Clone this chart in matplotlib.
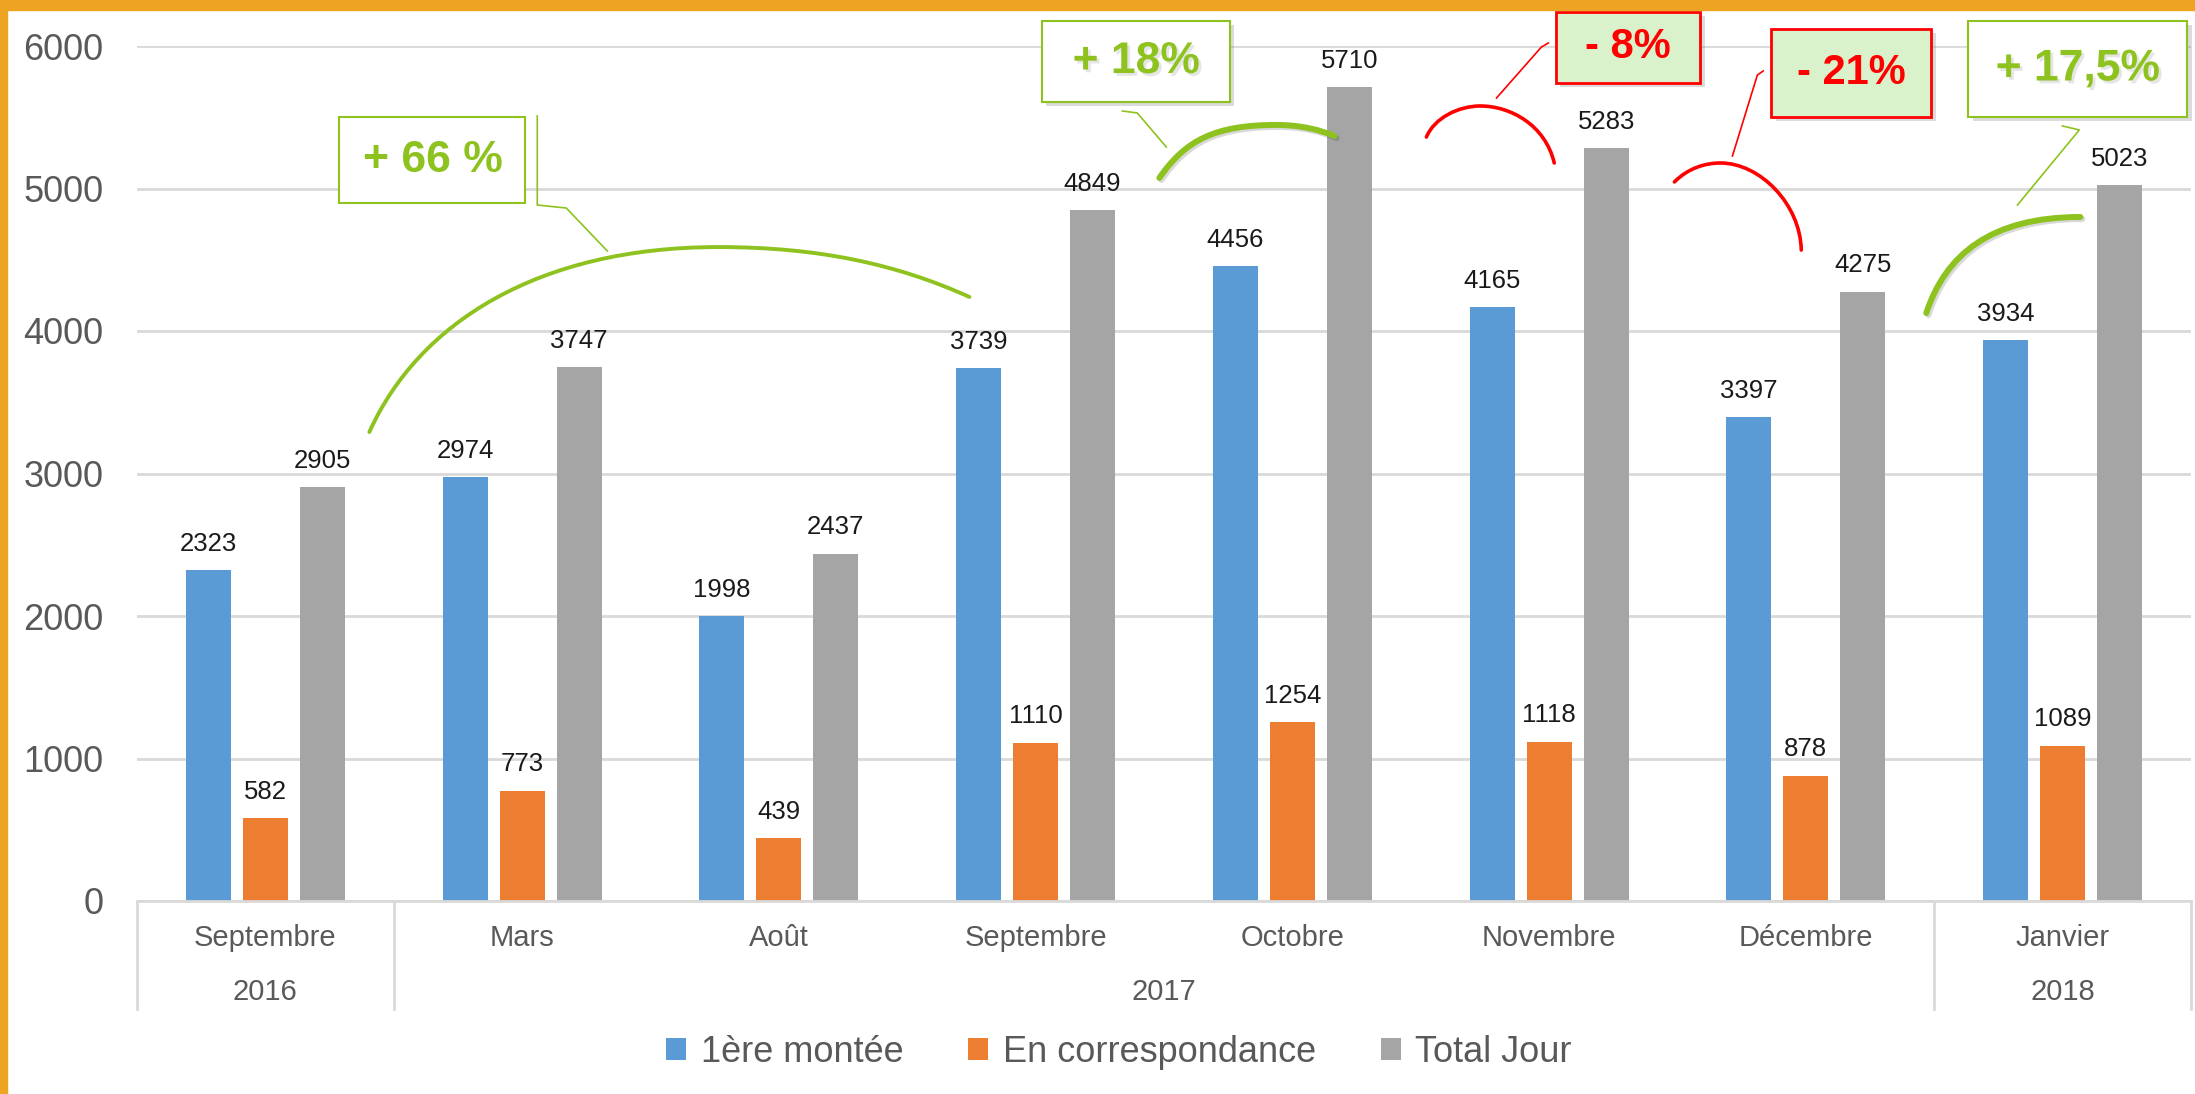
import matplotlib

matplotlib.use("Agg")

import matplotlib.pyplot as plt
import matplotlib.patheffects as pe
from matplotlib.path import Path
from matplotlib.patches import PathPatch, Rectangle
import numpy as np

plt.rcParams['font.family'] = ['Liberation Sans', 'DejaVu Sans']

months = ["Septembre", "Mars", "Août", "Septembre", "Octobre",
          "Novembre", "Décembre", "Janvier"]
years = ["2016", "2017", "2018"]
year_first = [0, 1, 7]   # first month index of each year
year_last = [0, 6, 7]    # last month index of each year

premiere = [2323, 2974, 1998, 3739, 4456, 4165, 3397, 3934]
correspondance = [582, 773, 439, 1110, 1254, 1118, 878, 1089]
total = [2905, 3747, 2437, 4849, 5710, 5283, 4275, 5023]
series_names = ["1ère montée", "En correspondance", "Total Jour"]

# annotations (x in category units, y in value units)
labels_pct = ["+ 66 %", "+ 18%", "- 8%", "- 21%", "+ 17,5%"]
pct_up = [True, True, False, False, True]
boxes = [(0.288, 4898, 1.013, 5502), (3.026, 5607, 3.758, 6175),
         (5.028, 5740, 5.589, 6240), (5.866, 5502, 6.489, 6119),
         (6.633, 5502, 7.486, 6175)]
callouts = [
    [(1.059, 5509), (1.059, 4884), (1.172, 4863), (1.332, 4561)],
    [(3.338, 5544), (3.396, 5530), (3.509, 5291)],
    [(4.997, 6021), (4.970, 5993), (4.795, 5635)],
    [(5.834, 5825), (5.811, 5796), (5.714, 5228)],
    [(6.999, 5439), (7.065, 5411), (6.824, 4884)],
]
arcs = [
    [(0.405, 3291), (0.596, 4056), (1.063, 4589), (1.764, 4589),
     (2.154, 4589), (2.458, 4470), (2.742, 4239)],
    [(3.482, 5074), (3.583, 5340), (3.700, 5446), (3.938, 5446),
     (4.031, 5446), (4.109, 5411), (4.164, 5368)],
    [(4.522, 5361), (4.553, 5495), (4.647, 5579), (4.732, 5579),
     (4.849, 5579), (4.985, 5446), (5.020, 5179)],
    [(5.488, 5046), (5.542, 5144), (5.609, 5179), (5.667, 5179),
     (5.823, 5179), (5.979, 4886), (5.982, 4568)],
    [(6.469, 4126), (6.543, 4533), (6.719, 4800), (7.069, 4800)],
]

blue = "#5B9BD5"
orange = "#ED7D31"
grey = "#A5A5A5"
green = "#8DC21F"
red = "#FF0000"
light_green = "#DAF2CC"
txt_grey = "#595959"
grid_col = "#D9D9D9"

fig = plt.figure(figsize=(21.95, 10.94), dpi=100)
ax = fig.add_axes([137 / 2195, 1 - 901 / 1094, (2191 - 137) / 2195, 855 / 1094])

x = np.arange(len(months))
w = 0.175
step = 0.222
for k, (vals, col) in enumerate(zip([premiere, correspondance, total], [blue, orange, grey])):
    ax.bar(x + (k - 1) * step, vals, w, color=col, label=series_names[k], zorder=3)
    for xi, v in zip(x, vals):
        ax.annotate(str(v), (xi + (k - 1) * step, v), xytext=(0, 19), textcoords="offset points",
                    ha="center", va="center", fontsize=18.5, color="#1a1a1a")

ax.set_xlim(-0.5, len(months) - 0.5)
ax.set_ylim(0, 6000)
ax.set_yticks(range(0, 6001, 1000))
ax.tick_params(axis="y", length=0, pad=24, labelsize=26, labelcolor=txt_grey)
ax.set_xticks([])
ax.grid(axis="y", color=grid_col, linewidth=2, zorder=0)
for s in ax.spines.values():
    s.set_visible(False)

# category axis (two levels)
trans = ax.get_xaxis_transform()
ax.plot([-0.5, len(months) - 0.5], [0, 0], transform=trans, color=grid_col, lw=2, clip_on=False, zorder=4)
for xi, m in zip(x, months):
    ax.text(xi, -0.0433, m, transform=trans, ha="center", va="center", fontsize=21, color=txt_grey)
for yr, a, b in zip(years, year_first, year_last):
    ax.text((a + b) / 2, -0.1064, yr, transform=trans, ha="center", va="center", fontsize=21, color=txt_grey)
for edge in [year_first[0] - 0.5] + [b + 0.5 for b in year_last]:
    ax.plot([edge, edge], [0, -0.1263], transform=trans, color=grid_col, lw=2, clip_on=False)

# annotations
box_shadow = [pe.withSimplePatchShadow(offset=(3, -3), shadow_rgbFace="#888888", alpha=0.3)]
txt_shadow = [pe.withSimplePatchShadow(offset=(2, -2), shadow_rgbFace="#999999", alpha=0.25)]
for i, (lab, up) in enumerate(zip(labels_pct, pct_up)):
    col = green if up else red
    x0, y0, x1, y1 = boxes[i]
    fill = "white" if up else light_green
    rect = Rectangle((x0, y0), x1 - x0, y1 - y0, facecolor=fill, edgecolor=col,
                     lw=1.5 if up else 2, clip_on=False, zorder=6)
    if i > 0:
        rect.set_path_effects(box_shadow)
    ax.add_patch(rect)
    ax.text((x0 + x1) / 2, (y0 + y1) / 2, lab, ha="center", va="center",
            fontsize=32 if up else 30, fontweight="bold", color=col, zorder=7,
            path_effects=txt_shadow if i in (1, 4) else None)
    cx, cy = zip(*callouts[i])
    ax.plot(cx, cy, color=col, lw=1.2, clip_on=False, zorder=6)
    pts = arcs[i]
    codes = [Path.MOVETO] + [Path.CURVE4] * (len(pts) - 1)
    lw = 4.3 if i in (1, 4) else (2.8 if up else 2.6)
    arc = PathPatch(Path(pts, codes), fill=False, edgecolor=col, lw=lw,
                    capstyle="round", clip_on=False, zorder=6)
    if i in (1, 4):
        arc.set_path_effects([pe.SimpleLineShadow(offset=(1.5, -1.5), alpha=0.15), pe.Normal()])
    ax.add_patch(arc)

leg = ax.legend(loc="center", bbox_to_anchor=(1119 / 2195, 1 - 1052 / 1094),
                bbox_transform=fig.transFigure, ncol=3, frameon=False, fontsize=26,
                handlelength=0.55, handleheight=0.55, handletextpad=0.4, columnspacing=1.8)
for t in leg.get_texts():
    t.set_color(txt_grey)

# orange frame
fig.patches.append(Rectangle((0, 1 - 10 / 1094), 1, 10 / 1094, transform=fig.transFigure,
                             color="#EDA422", zorder=10))
fig.patches.append(Rectangle((0, 0), 7 / 2195, 1, transform=fig.transFigure,
                             color="#EDA422", zorder=10))

fig.savefig("out.png", dpi=100)
